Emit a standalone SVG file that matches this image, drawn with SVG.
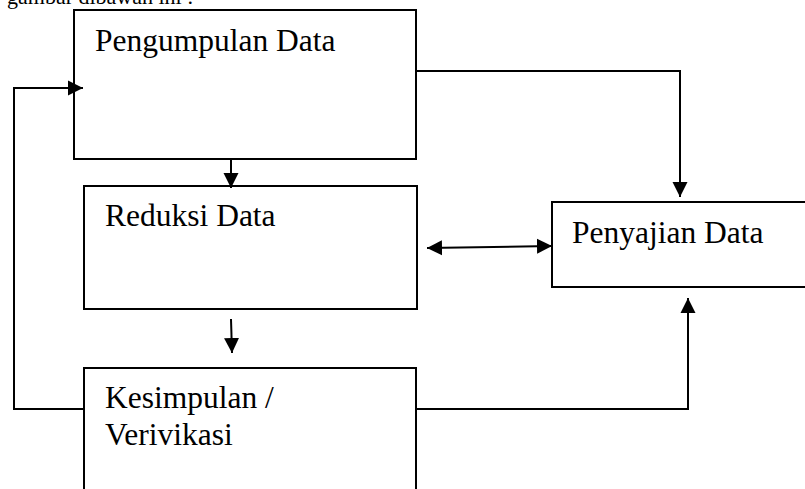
<svg xmlns="http://www.w3.org/2000/svg" width="805" height="489" viewBox="0 0 805 489">
<style>
.box{fill:#fff;stroke:#000;stroke-width:2}
.lbl{font-family:"Liberation Serif","Times New Roman",serif;font-size:31.5px;fill:#000}
.cap{font-family:"Liberation Serif","Times New Roman",serif;font-size:22px;fill:#000}
.con{fill:none;stroke:#000;stroke-width:2}
</style>
<defs>
<marker id="ah" markerUnits="userSpaceOnUse" markerWidth="16" markerHeight="16" refX="15" refY="7.5" orient="auto-start-reverse" viewBox="0 0 16 15">
<path d="M0,0 L15,7.5 L0,15 z" fill="#000"/>
</marker>
</defs>
<text class="cap" x="7" y="4">gambar dibawah ini :</text>
<g id="pengumpulan">
<rect class="box" x="74" y="10" width="342" height="149"/>
<text class="lbl" x="95" y="51">Pengumpulan Data</text>
</g>
<g id="reduksi">
<rect class="box" x="84" y="186" width="333" height="123"/>
<text class="lbl" x="105" y="226">Reduksi Data</text>
</g>
<g id="kesimpulan">
<rect class="box" x="84" y="368" width="332" height="140"/>
<text class="lbl" x="105" y="408">Kesimpulan /</text>
<text class="lbl" x="105" y="445">Verivikasi</text>
</g>
<g id="penyajian">
<rect class="box" x="552" y="202" width="270" height="85"/>
<text class="lbl" x="572" y="243">Penyajian Data</text>
</g>
<g id="connectors">
<line class="con" x1="231" y1="159" x2="231" y2="188" marker-end="url(#ah)"/>
<line class="con" x1="231" y1="319" x2="232" y2="353" marker-end="url(#ah)"/>
<polyline class="con" points="416,71 680,71 680,197" marker-end="url(#ah)"/>
<line class="con" x1="427" y1="248" x2="552" y2="246" marker-start="url(#ah)" marker-end="url(#ah)"/>
<polyline class="con" points="84,409 14,409 14,88 83,88" marker-end="url(#ah)"/>
<polyline class="con" points="416,409 688,409 688,298" marker-end="url(#ah)"/>
</g>
</svg>
